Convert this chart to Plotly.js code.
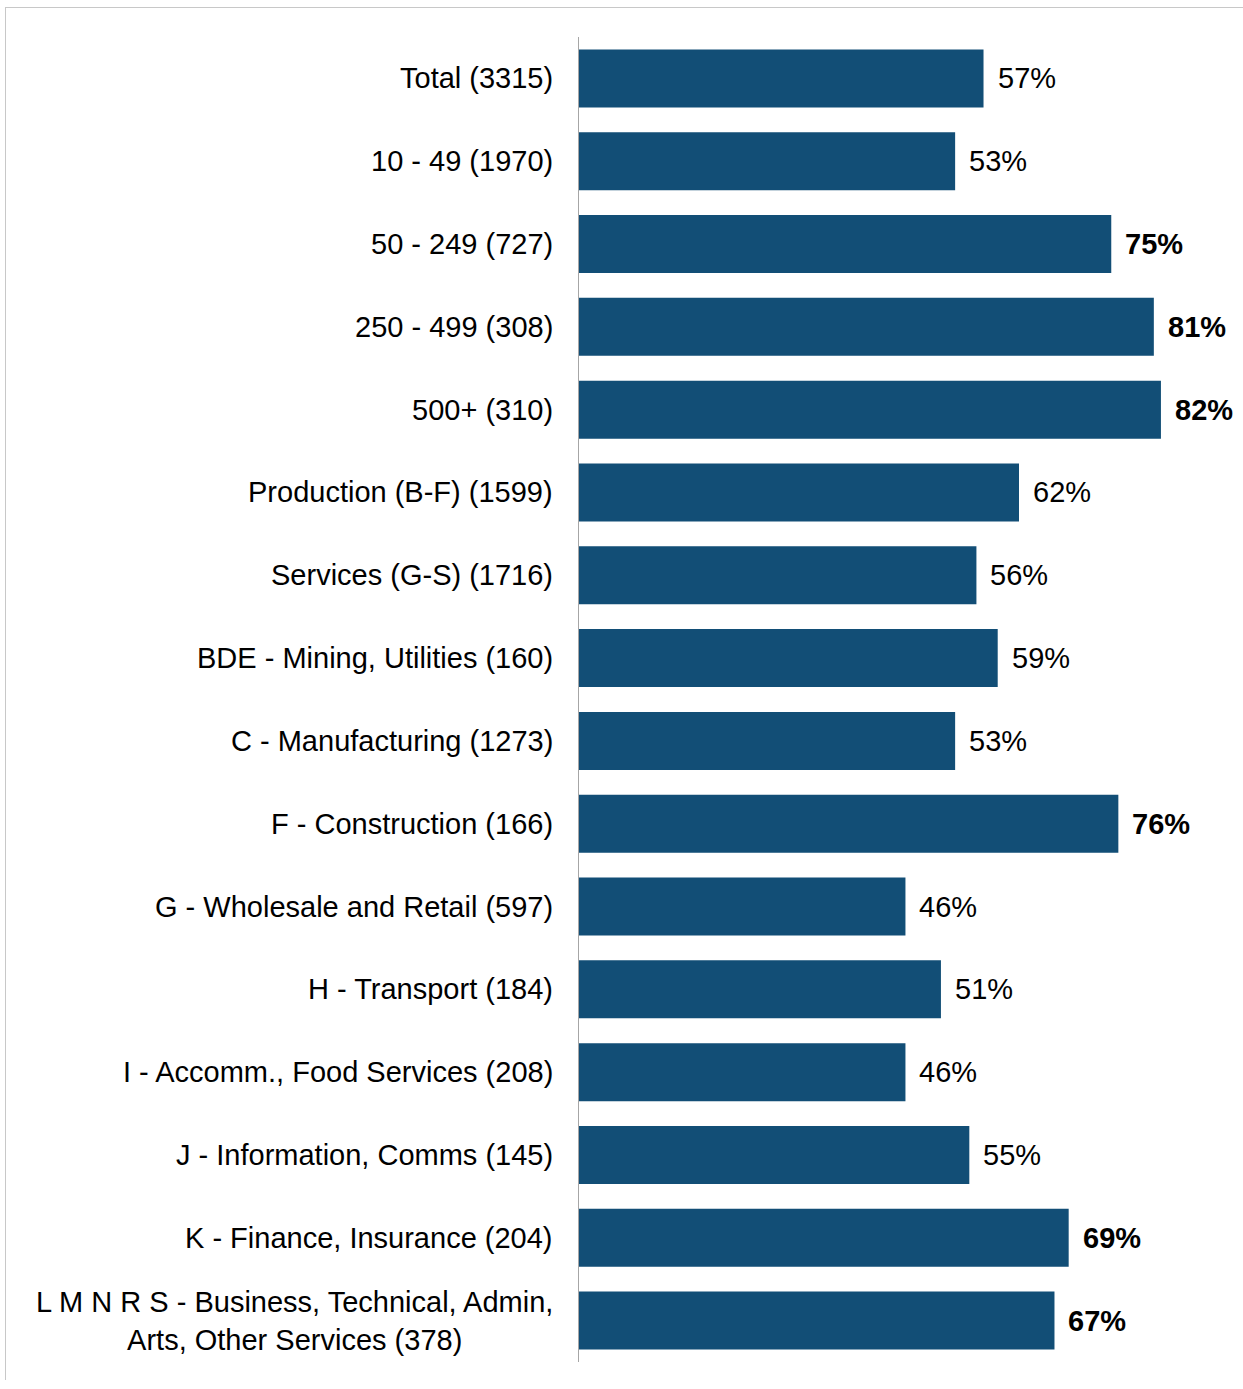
<!DOCTYPE html>
<html>
<head>
<meta charset="utf-8">
<script src="https://cdn.plot.ly/plotly-3.0.1.min.js"></script>
<style>
  html, body { margin: 0; padding: 0; background: #ffffff; }
  #frame { position: absolute; left: 5px; top: 7px; width: 1238px; height: 1372px;
           border-top: 1px solid #c8c8c8; border-left: 1px solid #c8c8c8; }
  #chart { position: absolute; left: 0; top: 0; width: 1243px; height: 1389px; }
</style>
</head>
<body>
<div id="frame"></div>
<div id="chart"></div>
<script>
const categories = [
  "Total (3315)",
  "10 - 49 (1970)",
  "50 - 249 (727)",
  "250 - 499 (308)",
  "500+ (310)",
  "Production (B-F) (1599)",
  "Services (G-S) (1716)",
  "BDE - Mining, Utilities (160)",
  "C - Manufacturing (1273)",
  "F - Construction (166)",
  "G - Wholesale and Retail (597)",
  "H - Transport (184)",
  "I - Accomm., Food Services (208)",
  "J - Information, Comms (145)",
  "K - Finance, Insurance (204)",
  "L M N R S - Business, Technical, Admin,<br>Arts, Other Services (378)"
];
const values = [57, 53, 75, 81, 82, 62, 56, 59, 53, 76, 46, 51, 46, 55, 69, 67];
const boldFlags = [false, false, true, true, true, false, false, false, false, true, false, false, false, false, true, true];

const barColor = "#124E76";
const fontFamily = "Liberation Sans, Arial, sans-serif";

const trace = {
  type: "bar",
  orientation: "h",
  x: values,
  y: categories,
  marker: { color: barColor },
  width: 0.7,
  hoverinfo: "none"
};

const annotations = [];
values.forEach((v, i) => {
  annotations.push({
    x: v, y: categories[i], xref: "x", yref: "y",
    text: boldFlags[i] ? "<b>" + v + "%</b>" : v + "%",
    showarrow: false, xanchor: "left", yanchor: "middle", xshift: 12,
    font: { family: fontFamily, size: 29, color: "#000000" }
  });
  annotations.push({
    x: 0, y: categories[i], xref: "paper", yref: "y",
    text: categories[i],
    showarrow: false, xanchor: "right", yanchor: "middle", xshift: -24,
    align: "center",
    font: { family: fontFamily, size: 29, color: "#000000" }
  });
});

const layout = {
  width: 1243,
  height: 1389,
  margin: { l: 579, r: 4, t: 37, b: 27, pad: 0 },
  paper_bgcolor: "rgba(0,0,0,0)",
  plot_bgcolor: "rgba(0,0,0,0)",
  showlegend: false,
  bargap: 0.3,
  xaxis: {
    range: [0, 93],
    showgrid: false, zeroline: false, showline: false,
    showticklabels: false, ticks: "", fixedrange: true
  },
  yaxis: {
    type: "category",
    autorange: "reversed",
    showgrid: false, zeroline: false,
    showline: true, linecolor: "#a6a6a6", linewidth: 1.5,
    showticklabels: false, ticks: "", fixedrange: true
  },
  annotations: annotations
};

Plotly.newPlot("chart", [trace], layout, { displayModeBar: false, staticPlot: true });
</script>
</body>
</html>
